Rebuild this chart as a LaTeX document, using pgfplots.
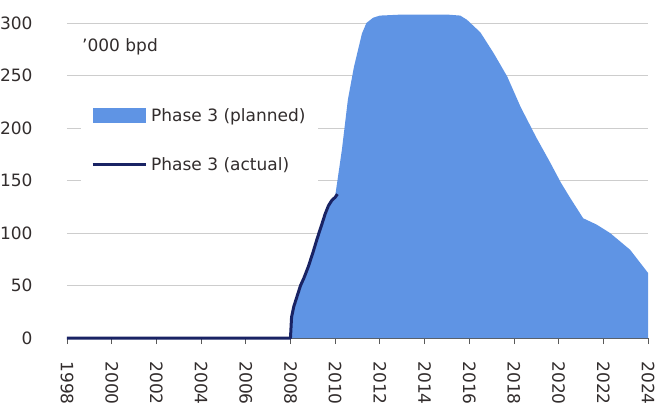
\documentclass[border=0pt]{standalone}
\usepackage{graphicx}
\usepackage{pgfplots}
\pgfplotsset{compat=1.18}
\usepackage{fontspec}
\setmainfont{DejaVu Sans}
\definecolor{planned}{RGB}{95,148,228}
\definecolor{actual}{RGB}{25,35,100}
\definecolor{gridc}{RGB}{205,205,205}
\definecolor{txt}{RGB}{50,45,45}
\newcommand{\lfont}{\fontsize{17}{19}\selectfont}
\begin{document}
\begin{tikzpicture}
\begin{axis}[
  scale only axis,
  width=581pt, height=335pt,
  xmin=1998, xmax=2024, ymin=0, ymax=319,
  axis lines*=left,
  y axis line style={draw=none},
  x axis line style={draw=gray!70!black, line width=0.8pt},
  xtick={1998,2000,...,2024},
  minor x tick num=1,
  ytick={0,50,...,300},
  ymajorgrids,
  grid style={gridc, line width=0.8pt},
  tick align=outside,
  major tick length=6pt, minor tick length=6pt,
  xtick style={draw=gray!70!black, line width=0.8pt},
  ytick style={draw=none},
  every tick label/.append style={font=\lfont, text=txt},
  /pgf/number format/assume math mode=true,
  /pgf/number format/1000 sep={},
  xticklabel style={rotate=-90, anchor=west, xshift=14pt},
  yticklabel style={anchor=east, xshift=-25pt},
  legend style={at={(rel axis cs:0.024,0.722)}, anchor=north west, draw=none, fill=white,
    font=\lfont, text=txt, row sep=31pt, column sep=2pt, inner sep=10pt,
    nodes={inner sep=2pt}},
  legend cell align=left,
  clip=false,
]
\addplot[draw=none, fill=planned,
  legend image code/.code={\fill[planned] (0pt,-7.5pt) rectangle (53pt,7.5pt);}]
  coordinates {
  (2008,0) (2008.05,18) (2008.5,52) (2009,81) (2009.5,113) (2009.8,128) (2010,135)
  (2010.3,179) (2010.57,227) (2010.84,258) (2011.2,290) (2011.4,300) (2011.7,305)
  (2012,307) (2013,308) (2014,308) (2015,308) (2015.6,307) (2015.9,303)
  (2016.5,291) (2017.1,271) (2017.7,249) (2018.3,220) (2019,191) (2019.6,168)
  (2020.1,148) (2020.5,134) (2021.1,114) (2021.7,108) (2022.3,100) (2023.2,84)
  (2023.6,73) (2024,62) (2024,0)
  } \closedcycle;
\addlegendentry{Phase 3 (planned)}
\addplot[actual, line width=3pt, line join=round,
  legend image code/.code={\draw[actual, line width=3pt] (0pt,0pt) -- (53pt,0pt);}]
  coordinates {
  (1998,0) (2008,0) (2008.05,20) (2008.15,30) (2008.3,40) (2008.45,50) (2008.6,57)
  (2008.8,68) (2009.0,81) (2009.2,95) (2009.4,108) (2009.55,118) (2009.7,126)
  (2009.85,131) (2010.0,134) (2010.1,137)
  };
\addlegendentry{Phase 3 (actual)}
\node[anchor=west, font=\lfont, text=txt, inner sep=0pt] at (rel axis cs:0.0258,0.869) {'000 bpd};
\end{axis}
\pgfresetboundingbox
\path (current axis.south west) ++(-67pt,-69pt) rectangle ++(661pt,407pt);
\end{tikzpicture}
\end{document}
